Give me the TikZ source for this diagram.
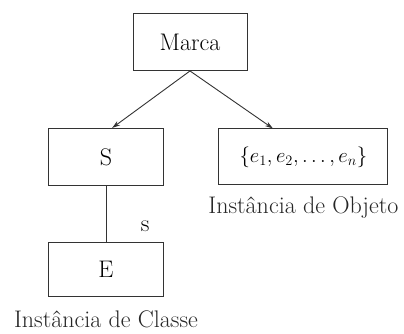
\documentclass[tikz,border=0pt]{standalone}
\usepackage{amsmath, amssymb}
\usepackage{tikz}
\usetikzlibrary{arrows.meta, positioning}

\begin{document}
\begin{tikzpicture}[
    x=1pt, y=1pt,
    font=\fontsize{24}{28}\selectfont,
    line width=0.9pt,
    >={Stealth[length=8pt, width=5pt]},
    block/.style={rectangle, draw=black!80, minimum width=#1, minimum height=57pt, align=center},
    block/.default=115pt,
    caption/.style={text=black!85},
]
    \useasboundingbox (0,0) rectangle (404,-333);

    % Marca
    \node[block=114pt] (marca) at (190,-42) {Marca};

    % S
    \node[block, below=57pt of marca, xshift=-84pt] (S) {S};

    % E
    \node[block, minimum height=54pt, below=56pt of S] (E) {E};

    % Objeto
    \node[block=169pt, minimum height=56pt, right=54.5pt of S, font=\fontsize{21}{25}\selectfont] (obj) {$\{e_1, e_2, \ldots, e_n\}$};

    % Arrows
    \draw[->, black!80] (marca.south) -- (S.78);
    \draw[->, black!80] (marca.south) -- (obj.137);
    \draw[black!80] (S) -- node[pos=0.72, right=31pt, text=black] {s} (E);

    % Labels
    \node[caption, below=10pt of E] (classe) {Instância de Classe};
    \node[caption, below=8pt of obj] (objeto) {Instância de Objeto};

\end{tikzpicture}
\end{document}
